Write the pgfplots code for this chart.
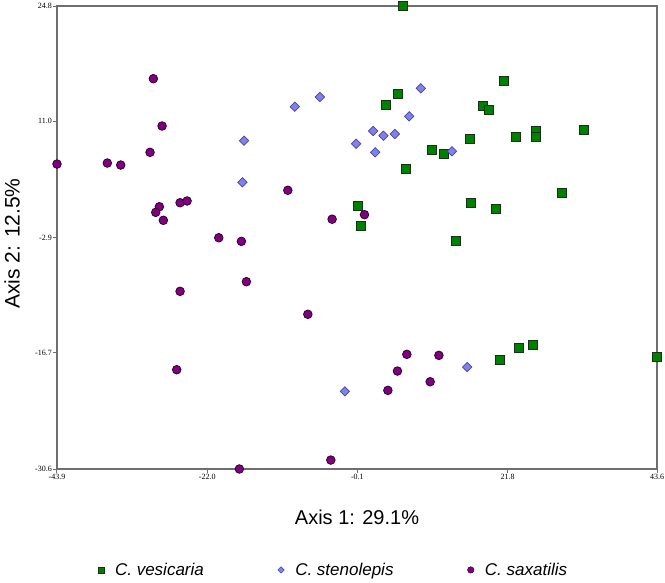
\documentclass[border=0pt]{standalone}
\usepackage{fontspec}
\setmainfont{Liberation Sans}
\newfontfamily\tickfont{Liberation Serif}
\usepackage{pgfplots}
\usepackage{pgfplotstable}
\pgfplotsset{compat=1.18}
\pgfplotsset{dotlegend/.style={legend image code/.code={\draw[##1] plot coordinates {(0pt,0pt)};}}}
\definecolor{vesc}{RGB}{0,128,0}
\definecolor{vesd}{RGB}{20,50,20}
\definecolor{stec}{RGB}{128,128,240}
\definecolor{sted}{RGB}{70,70,150}
\definecolor{saxc}{RGB}{128,0,128}
\definecolor{saxd}{RGB}{45,0,45}
\definecolor{axgray}{RGB}{110,110,110}

\pgfplotstableread{
x y
6.48 24.8
21.32 15.79
5.75 14.23
4.00 12.99
18.21 12.87
19.03 12.36
32.89 10.00
25.88 9.84
25.88 9.16
22.97 9.16
16.31 8.92
10.81 7.60
12.46 7.05
6.92 5.30
29.78 2.42
16.46 1.26
20.11 0.54
-0.03 0.90
0.35 -1.56
14.31 -3.28
20.73 -17.56
23.51 -16.09
25.50 -15.73
43.6 -17.24
}\vesicaria

\pgfplotstableread{
x y
-9.22 12.75
-5.57 13.91
-16.62 8.68
-16.86 3.70
9.16 14.95
7.46 11.60
2.20 9.84
3.71 9.28
5.37 9.48
-0.28 8.32
2.50 7.29
13.69 7.41
-1.92 -21.31
15.92 -18.40
}\stenolepis

\pgfplotstableread{
x y
-29.85 16.10
-28.58 10.44
-30.33 7.29
-43.9 5.89
-36.56 6.01
-34.61 5.77
-10.24 2.75
-28.97 0.78
-29.50 0.11
-28.39 -0.84
-25.95 1.26
-24.93 1.47
-3.78 -0.71
-20.31 -2.93
-17.01 -3.36
0.94 -0.17
-25.95 -9.34
-16.28 -8.19
-7.32 -12.09
-26.44 -18.72
-17.30 -30.6
-3.97 -29.53
7.12 -16.88
11.79 -17.00
5.75 -18.88
10.52 -20.16
4.35 -21.19
}\saxatilis

\begin{document}
\begin{tikzpicture}
\begin{axis}[
  at={(0pt,0pt)}, anchor=south west,
  scale only axis, width=600pt, height=463pt,
  xmin=-43.9, xmax=43.6, ymin=-30.6, ymax=24.8,
  xtick={-43.9,-22.0,-0.1,21.8,43.6},
  xticklabels={-43.9,-22.0,-0.1,21.8,43.6},
  ytick={-30.6,-16.7,-2.9,11.0,24.8},
  yticklabels={-30.6,-16.7,-2.9,11.0,24.8},
  tick align=outside, xtick pos=left, ytick pos=left,
  major tick length=4pt,
  tick style={axgray, line width=1pt},
  axis line style={axgray, line width=1.3pt},
  ticklabel style={font=\tickfont\fontsize{8}{9}\selectfont, text=black},
  xticklabel style={inner sep=0.5pt},
  yticklabel style={inner sep=1pt},
  clip=false,
  xlabel={Axis 1: 29.1\%}, ylabel={Axis 2: 12.5\%},
  xlabel style={font=\fontsize{20}{24}\selectfont, at={(axis description cs:0.5,-0.1037)}, anchor=center},
  ylabel style={font=\fontsize{21}{24}\selectfont, at={(axis description cs:-0.075,0.487)}, anchor=center},
  legend columns=3,
  legend style={at={(axis description cs:0.461,-0.218)}, anchor=center, draw=none,
    font=\itshape\fontsize{17}{20}\selectfont,
    /tikz/every odd column/.append style={column sep=9pt},
    /tikz/every even column/.append style={column sep=72pt}},
]
\addlegendimage{only marks, mark=square*, mark size=3pt, mark options={fill=vesc, draw=vesd, line width=0.5pt}, dotlegend}
\addlegendentry{C. vesicaria}
\addlegendimage{only marks, mark=diamond*, mark size=3.2pt, mark options={fill=stec, draw=sted, line width=0.5pt, xscale=1.33}, dotlegend}
\addlegendentry{C. stenolepis}
\addlegendimage{only marks, mark=*, mark size=3.2pt, mark options={fill=saxc, draw=saxd, line width=0.5pt}, dotlegend}
\addlegendentry{C. saxatilis}

\addplot[only marks, mark=square*, mark size=4.5pt, mark options={fill=vesc, draw=vesd, line width=0.8pt}, forget plot] table {\vesicaria};
\addplot[only marks, mark=diamond*, mark size=4.7pt, mark options={fill=stec, draw=sted, line width=0.7pt, xscale=1.33}, forget plot] table {\stenolepis};
\addplot[only marks, mark=*, mark size=4.3pt, mark options={fill=saxc, draw=saxd, line width=0.8pt}, forget plot] table {\saxatilis};
\end{axis}
\pgfresetboundingbox
\path[use as bounding box] (-57pt,-113pt) rectangle (608pt,469pt);
\end{tikzpicture}
\end{document}
